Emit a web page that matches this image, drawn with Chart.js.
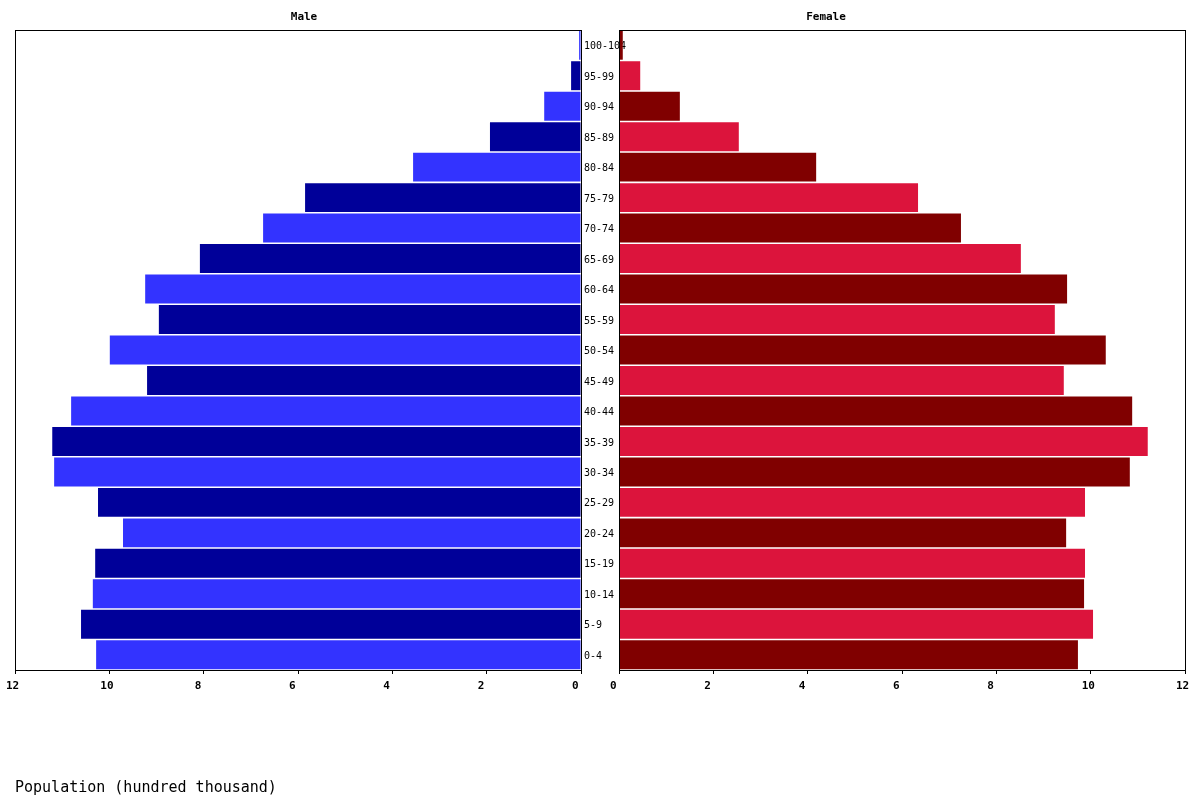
<!DOCTYPE html>
<html>
<head>
<meta charset="utf-8">
<script src="https://cdn.jsdelivr.net/npm/chart.js@4"></script>
<style>
  html, body { margin:0; padding:0; background:#fff; }
  #wrap { position:relative; width:1200px; height:800px; }
  canvas { position:absolute; left:0; top:0; }
</style>
</head>
<body>
<div id="wrap">
  <canvas id="male" width="1200" height="800"></canvas>
  <canvas id="female" width="1200" height="800"></canvas>
</div>
<script>
const ageGroups = ["0-4","5-9","10-14","15-19","20-24","25-29","30-34","35-39","40-44","45-49","50-54","55-59","60-64","65-69","70-74","75-79","80-84","85-89","90-94","95-99","100-104"];
const maleValues = [10.28,10.60,10.35,10.30,9.71,10.24,11.17,11.21,10.81,9.20,9.99,8.95,9.24,8.08,6.74,5.85,3.56,1.93,0.78,0.21,0.04];
const femaleValues = [9.73,10.05,9.86,9.88,9.48,9.88,10.83,11.21,10.88,9.43,10.32,9.24,9.50,8.52,7.25,6.34,4.18,2.54,1.29,0.45,0.08];
const xTicks = [0,2,4,6,8,10,12];
const maleTitle = "Male";
const femaleTitle = "Female";
const axisTitle = "Population (hundred thousand)";

const MONO = '"DejaVu Sans Mono", "Liberation Mono", monospace';

const boxPlugin = {
  id: 'box',
  afterDraw(chart, args, opts) {
    const a = chart.chartArea, c = chart.ctx;
    c.save();
    c.strokeStyle = '#000';
    c.lineWidth = 1;
    c.strokeRect(Math.round(a.left) + 0.5, Math.round(a.top) + 0.5,
                 Math.round(a.right - a.left), Math.round(a.bottom - a.top));
    c.fillStyle = '#000';
    c.font = 'bold 11px ' + MONO;
    c.textAlign = 'center';
    c.textBaseline = 'middle';
    c.fillText(opts.title, opts.titleX, 17);
    if (opts.labels) {
      const y = chart.scales.y;
      c.font = '10px ' + MONO;
      c.textAlign = 'left';
      ageGroups.forEach((g, i) => {
        c.fillText(g, a.right + 3, y.getPixelForValue(i) + 1.5);
      });
    }
    if (opts.axisTitle) {
      c.font = '15px ' + MONO;
      c.textAlign = 'left';
      c.fillText(opts.axisTitle, 15, 788);
    }
    c.restore();
  }
};

function makeChart(id, values, colors, reverse, padding, boxOpts) {
  return new Chart(document.getElementById(id), {
    type: 'bar',
    data: {
      labels: ageGroups,
      datasets: [{
        data: values,
        backgroundColor: ctx => colors[ctx.dataIndex % 2],
        borderWidth: 0,
        barPercentage: 1,
        categoryPercentage: 0.95
      }]
    },
    options: {
      indexAxis: 'y',
      responsive: false,
      animation: false,
      devicePixelRatio: 1,
      layout: { padding: padding },
      plugins: {
        legend: { display: false },
        tooltip: { enabled: false },
        box: boxOpts
      },
      scales: {
        x: {
          type: 'linear',
          min: 0,
          max: 12,
          reverse: reverse,
          afterBuildTicks: s => { s.ticks = xTicks.map(v => ({ value: v })); },
          afterFit: s => { s.height = 30; s.paddingLeft = 0; s.paddingRight = 0; },
          grid: { drawOnChartArea: false, drawTicks: true, tickLength: 4, color: '#000' },
          border: { display: true, color: '#000' },
          ticks: {
            color: '#000',
            font: { family: MONO, size: 11, weight: 'bold' },
            padding: 6,
            align: 'start',
            labelOffset: -9,
            maxRotation: 0,
            autoSkip: false
          }
        },
        y: {
          type: 'category',
          reverse: true,
          display: false
        }
      }
    },
    plugins: [boxPlugin]
  });
}

makeChart('male', maleValues, ['#3333FF', '#000099'], true,
  { left: 15, right: 619, top: 30, bottom: 100 },
  { title: maleTitle, titleX: 304, labels: true, axisTitle: axisTitle });

makeChart('female', femaleValues, ['#800000', '#DC143C'], false,
  { left: 619, right: 15, top: 30, bottom: 100 },
  { title: femaleTitle, titleX: 826, labels: false });
</script>
</body>
</html>
